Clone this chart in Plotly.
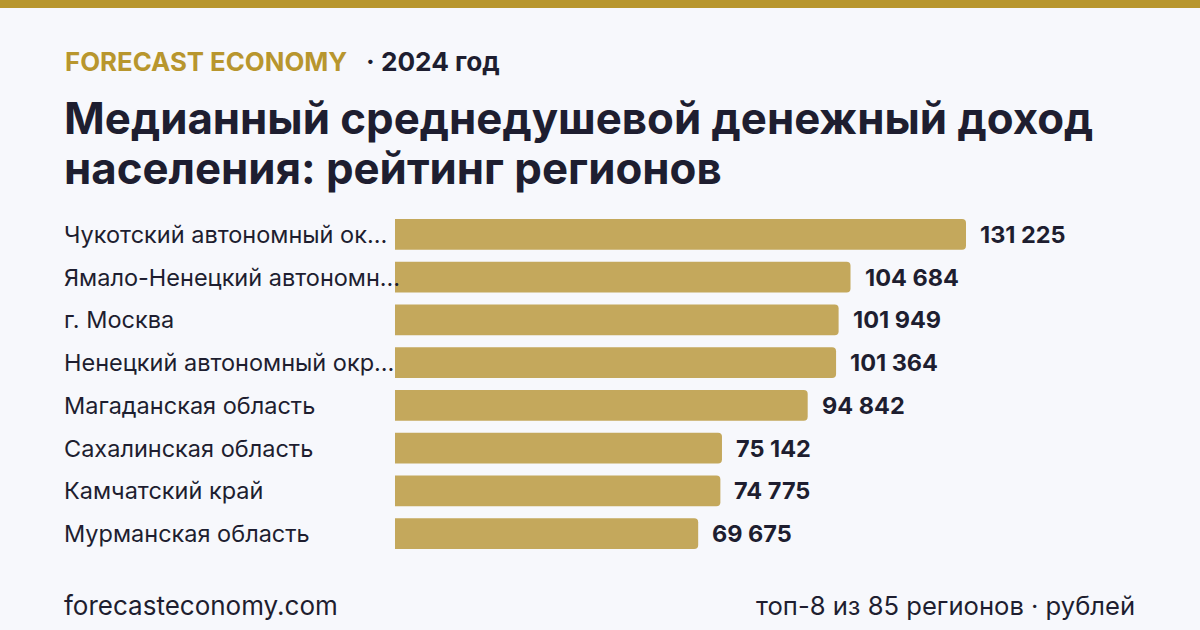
import plotly.graph_objects as go

categories = [
    "Чукотский автономный ок…",
    "Ямало-Ненецкий автономн…",
    "г. Москва",
    "Ненецкий автономный окр…",
    "Магаданская область",
    "Сахалинская область",
    "Камчатский край",
    "Мурманская область",
]
values = [131225, 104684, 101949, 101364, 94842, 75142, 74775, 69675]

W, H = 1200, 630
L, R, T, B = 395, 60, 213, 75
PW, PH = W - L - R, H - T - B

def px_x(px):
    return (px - L) / PW

def px_y(py):
    return (H - B - py) / PH

BG = "#f7f8fc"
GOLD = "#b8962e"
BAR = "#c4a85c"
DARK = "#1e1e30"
FONT = "Inter"

fig = go.Figure()
fig.add_trace(go.Bar(
    x=values, y=categories, orientation="h",
    marker=dict(color=BAR, cornerradius=4, line=dict(width=0)),
    hoverinfo="skip",
))

def fmt(v):
    return f"{v:,}".replace(",", " ")

annotations = []
for c, v in zip(categories, values):
    annotations.append(dict(
        x=v, y=c, xref="x", yref="y", text=f"<b>{fmt(v)}</b>",
        showarrow=False, xanchor="left", xshift=12,
        font=dict(family=FONT, size=23.5, color=DARK),
    ))
    annotations.append(dict(
        x=px_x(62), y=c, xref="paper", yref="y", text=c,
        showarrow=False, xanchor="left",
        font=dict(family=FONT, size=23.5, color=DARK),
    ))

annotations += [
    dict(x=px_x(63), y=px_y(61), xref="paper", yref="paper",
         text="<b>FORECAST ECONOMY</b>", showarrow=False, xanchor="left", yanchor="middle",
         font=dict(family=FONT, size=25.8, color=GOLD)),
    dict(x=px_x(364), y=px_y(61), xref="paper", yref="paper",
         text="<b>· 2024 год</b>", showarrow=False, xanchor="left", yanchor="middle",
         font=dict(family=FONT, size=26.2, color=DARK)),
    dict(x=px_x(62), y=px_y(118), xref="paper", yref="paper",
         text="<b>Медианный среднедушевой денежный доход</b>", showarrow=False,
         xanchor="left", yanchor="middle",
         font=dict(family=FONT, size=43.8, color=DARK)),
    dict(x=px_x(62), y=px_y(168), xref="paper", yref="paper",
         text="<b>населения: рейтинг регионов</b>", showarrow=False,
         xanchor="left", yanchor="middle",
         font=dict(family=FONT, size=43.8, color=DARK)),
    dict(x=px_x(62), y=px_y(605), xref="paper", yref="paper",
         text="forecasteconomy.com", showarrow=False, xanchor="left", yanchor="middle",
         font=dict(family=FONT, size=26, color=DARK)),
    dict(x=px_x(1137), y=px_y(605), xref="paper", yref="paper",
         text="топ-8 из 85 регионов · рублей", showarrow=False, xanchor="right", yanchor="middle",
         font=dict(family=FONT, size=25.6, color=DARK)),
]

shapes = [dict(type="rect", xref="paper", yref="paper",
               x0=px_x(0), x1=px_x(W), y0=px_y(8), y1=px_y(-2),
               fillcolor=GOLD, line=dict(width=0), layer="above")]

xmax = 131225 * PW / (966 - L)

fig.update_layout(
    width=W, height=H,
    margin=dict(l=L, r=R, t=T, b=B, autoexpand=False),
    paper_bgcolor=BG, plot_bgcolor=BG,
    showlegend=False,
    bargap=0.28,
    xaxis=dict(range=[0, xmax], visible=False, fixedrange=True),
    yaxis=dict(autorange="reversed", visible=False, fixedrange=True),
    annotations=annotations,
    shapes=shapes,
)

fig.write_html("out.html", config={"displayModeBar": False})
